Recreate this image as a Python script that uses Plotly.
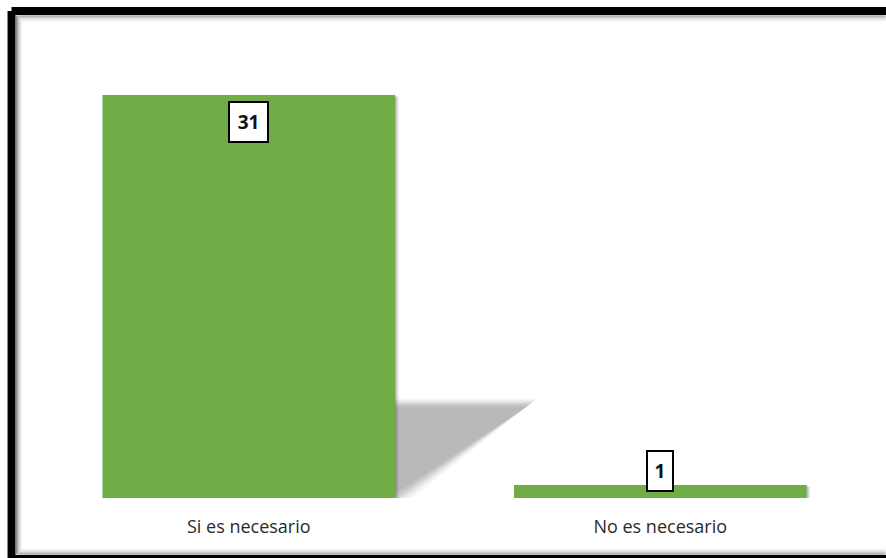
import plotly.graph_objects as go

categories = ["Si es necesario", "No es necesario"]
values = [31, 1]
label_texts = ["31", "1"]

W, H = 886, 558
ML, MR, MT, MB = 42.5, 19.5, 40, 60
PW, PH = W - ML - MR, H - MT - MB
YMAX = PH / 13.0
BAR_COLOR = "#70AD47"
BARGAP = 0.289
HALF = (1 - BARGAP) / 2


def px(x):
    return (x - ML) / PW


def py(y):
    return (H - MB - y) / PH


fig = go.Figure()
fig.add_trace(go.Bar(
    x=list(range(len(categories))), y=values,
    marker=dict(color=BAR_COLOR, line=dict(width=0)),
    hoverinfo="skip",
))

shapes = []

# soft drop shadows of bars (decoration)
for i, v in enumerate(values):
    for k, a in [(4, 0.05), (3, 0.07), (2, 0.09), (1, 0.11)]:
        dx = k * 1.0 / PW * 2
        dy = k / 13.0
        shapes.append(dict(
            type="rect", xref="x", yref="y", layer="below",
            x0=i - HALF + dx * 0.5, x1=i + HALF + dx,
            y0=-dy - 0.15, y1=v - dy * 0.5,
            fillcolor=f"rgba(0,0,0,{a})", line=dict(width=0),
        ))

# perspective shadow of first bar (decoration)
v0 = values[0]
sx0 = 0 + HALF
sh_top = v0 * 0.232
sh_right = 0.683
for k, a in [(6, 0.05), (4.5, 0.06), (3, 0.08), (1.5, 0.10), (0, 0.11), (-2, 0.11)]:
    ex = k / PW * 2
    ey = k / 13.0
    path = (f"M {sx0},{-ey * 0.3} L {sx0},{sh_top + ey} "
            f"L {sh_right + ex * 1.2},{sh_top + ey} "
            f"L {sx0 + ex * 2.5},{-ey * 0.3} Z")
    shapes.append(dict(type="path", xref="x", yref="y", layer="below",
                       path=path, fillcolor=f"rgba(90,90,90,{a})",
                       line=dict(width=0)))


def frame_lines(xl, yt, yb, xr, color, width):
    out = []
    for (x0, y0, x1, y1) in [(xl, yt, xr, yt), (xl, yt, xl, yb), (xl, yb, xr, yb)]:
        out.append(dict(type="line", xref="paper", yref="paper", layer="above",
                        x0=px(x0), y0=py(y0), x1=px(x1), y1=py(y1),
                        line=dict(color=color, width=width)))
    return out


# inner soft shadow of the frame
grad = [(1.5, "#8a8a8a"), (2.5, "#a8a8a8"), (3.5, "#c4c4c4"), (4.5, "#d8d8d8"), (5.5, "#e8e8e8"), (6.5, "#f3f3f3")]
for off, col in grad:
    shapes += frame_lines(15 + off - 0.5, 15 + off - 0.5, 555 - off + 0.5, W, col, 1)
# outer black frame (right side falls outside the picture)
shapes += frame_lines(11, 11, 559, W + 4, "black", 8)

annotations = []
for i, (v, t) in enumerate(zip(values, label_texts)):
    big = v > 5
    annotations.append(dict(
        x=i, y=v, xref="x", yref="y", text=f"<b>{t}</b>", showarrow=False,
        yanchor="top" if big else "bottom",
        yshift=-6 if big else -7,
        font=dict(family="Open Sans, Arial", size=19, color="#111111"),
        bgcolor="white", bordercolor="black", borderwidth=2, borderpad=3,
        width=5 + 13 * len(t), height=32,
    ))

fig.update_layout(
    width=W, height=H,
    margin=dict(l=ML, r=MR, t=MT, b=MB, pad=0),
    paper_bgcolor="white", plot_bgcolor="white",
    bargap=BARGAP, showlegend=False,
    xaxis=dict(
        tickmode="array", tickvals=list(range(len(categories))), ticktext=categories,
        range=[-0.5, len(categories) - 0.5], showgrid=False, zeroline=False,
        showline=False, ticks="", ticklabelstandoff=16,
        tickfont=dict(family="Open Sans, Arial", size=18, color="#2a2a2a"),
    ),
    yaxis=dict(range=[0, YMAX], visible=False, showgrid=False, zeroline=False),
    shapes=shapes, annotations=annotations,
)

fig.write_html(
    "out.html",
    config={"displayModeBar": False},
    post_script="document.body.style.margin='0';document.body.style.overflow='hidden';",
)
